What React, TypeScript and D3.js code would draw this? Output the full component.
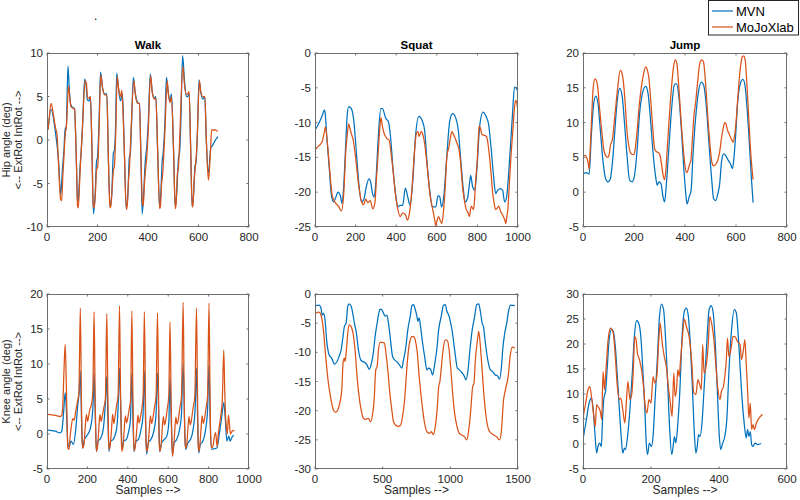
import React from "react";
import * as d3 from "d3";

type P = [number, number];

// ---------- data (sample index, angle in deg) ----------
const walkHipMVN: P[] = [[4,1.2],[16,3.5],[33,1.0],[46,-2.5],[54,-6.3],[62,-3],[67,-1.2],[72,1.4],[76,1.2],[83,8.5],[88,6],[93,4.2],[99,3.8],[109,3.6],[116,-2],[121,-7.2],[125,-6.5],[131,-3],[135,-1.5],[141,1.8],[149,7],[154,6.5],[160,4.6],[167,4.5],[172,5],[178,-1],[184,-8.5],[191,-6],[196,-2.5],[200,-2],[206,2],[212,7.8],[220,6],[228,5.3],[237,5.3],[243,-2],[250,-7.7],[256,-6.5],[263,-1.5],[267,-1.2],[272,2],[276,7.7],[283,6],[291,4.5],[299,5.3],[306,-1],[314,-7.8],[320,-6.5],[326,-2],[330,-1.6],[335,2],[342,7.2],[349,5.5],[359,4.3],[366,4.2],[372,-2],[377,-8.5],[383,-6],[389,-2.5],[395,-0.8],[401,2],[409,7.6],[417,5.5],[425,4.8],[431,5.0],[438,-1],[446,-7.7],[451,-6],[456,-2.5],[460,-1.5],[467,2],[473,7.2],[480,5.5],[487,4.5],[493,5.3],[501,-1],[508,-7.7],[514,-6],[521,-2],[525,-1.5],[530,2],[537,9.7],[544,7],[552,5.0],[557,5.0],[563,5.3],[569,-1],[575,-7.7],[581,-6],[586,-3],[590,-2.6],[596,1],[602,6.9],[609,5.5],[617,4.7],[625,5.0],[631,0],[639,-3.8],[644,-2.5],[648,-1],[658,-0.5],[667,0],[677,0.4]];
const walkHipMoJo: P[] = [[0,1.0],[4,1.3],[16,4.2],[25,3],[33,1.5],[40,0.5],[46,-3],[54,-6.8],[58,-7.0],[63,-4],[67,-2],[72,0.5],[78,2],[85,6.2],[90,5],[95,3.8],[101,3.7],[109,3.5],[116,-2],[121,-7.6],[124,-7.8],[129,-5],[133,-2.5],[138,0],[143,3],[151,6.8],[156,6.5],[161,4.8],[166,4.8],[172,5.0],[178,-1],[183,-7.5],[187,-7.8],[192,-6],[196,-3.5],[201,-3],[206,1],[213,7.5],[220,6],[228,5.2],[237,5.2],[243,-2],[249,-7.6],[252,-7.8],[257,-6],[263,-3.5],[267,-3],[272,0.5],[278,7.3],[284,5.8],[291,5],[296,5.7],[299,4.5],[306,-1],[314,-8],[318,-7.5],[322,-5],[327,-3],[332,0.5],[344,6.8],[350,5.2],[359,4.2],[366,4.2],[372,-2],[378,-7.2],[381,-7.6],[386,-5],[390,-3.5],[395,-2],[401,1],[410,7.4],[417,5.5],[425,4.7],[431,4.8],[438,-1],[446,-7.9],[449,-7.7],[454,-5],[458,-4],[462,-2],[467,1],[476,6.8],[481,5.2],[487,4.3],[493,5.0],[501,-1],[508,-7.9],[511,-7.5],[516,-4],[521,-3],[526,0.5],[538,8.5],[544,6.5],[552,5.2],[557,5.3],[563,5.6],[569,-1],[575,-7.7],[578,-7.5],[583,-4.5],[588,-3],[593,-1],[604,6.8],[609,5.5],[617,5],[625,5],[631,0],[639,-4.6],[643,-3.5],[648,-1],[652,1.2],[660,1.1],[665,1.2],[670,1.1],[677,1.0]];

const squatHipMVN: P[] = [[0,-11.1],[17,-10.2],[33,-9.2],[47,-8.2],[50,-8.6],[58,-12],[70,-16.4],[80,-20.2],[91,-21.4],[103,-20.7],[113,-20],[125,-20.5],[133,-21.6],[141,-19.3],[150,-14],[158,-9.2],[166,-7.7],[179,-8],[191,-9.7],[203,-14],[216,-18.8],[229,-21.4],[241,-21],[252,-19.3],[266,-18.1],[276,-18.8],[282,-20],[291,-20.7],[299,-18.8],[312,-12],[324,-8],[332,-8],[349,-9.4],[362,-9.9],[372,-12],[385,-16.9],[399,-20.7],[407,-22.1],[419,-21.9],[432,-21.9],[445,-19.4],[457,-20.7],[468,-21.9],[482,-18.3],[495,-12],[512,-9.1],[528,-9.7],[540,-11.1],[551,-15.4],[565,-19.7],[578,-22.1],[595,-22.1],[606,-20.5],[615,-20.7],[623,-22.1],[634,-20.7],[648,-15.4],[664,-9.7],[678,-8.7],[694,-9.4],[706,-11.1],[718,-15.4],[731,-19.7],[739,-21.4],[751,-20.9],[761,-18.8],[767,-17.6],[777,-19.3],[787,-19.7],[797,-16.9],[811,-10.6],[827,-8.5],[844,-9.2],[855,-10.2],[867,-13.5],[880,-17.8],[890,-20.2],[900,-19.7],[914,-19.5],[924,-19.7],[934,-21.4],[944,-20.7],[955,-16.9],[972,-9.2],[983,-4.9],[993,-5.1],[1000,-5.8]];
const squatHipMoJo: P[] = [[0,-14],[10,-13.6],[20,-13.3],[35,-12.8],[45,-11.5],[52,-10.6],[58,-12],[70,-16],[85,-20.5],[100,-21.5],[115,-22],[130,-22.7],[142,-20],[152,-14],[160,-11.5],[166,-10.2],[172,-10.8],[178,-11.5],[188,-12.5],[200,-15],[215,-19],[229,-21.3],[240,-21.8],[250,-21],[260,-21.5],[272,-21.2],[285,-22.4],[295,-21.5],[303,-18],[312,-14],[320,-10.5],[325,-9.3],[332,-10.5],[340,-11.5],[355,-12.3],[365,-12.5],[375,-14.5],[385,-17],[395,-20],[405,-22],[420,-23.5],[432,-23],[445,-23.2],[455,-24],[462,-23.5],[470,-22],[480,-18.5],[488,-15],[495,-12.5],[500,-11.5],[508,-11.3],[512,-12],[520,-11.5],[525,-11.3],[532,-11.8],[540,-13],[555,-17],[565,-20],[580,-22.5],[590,-24],[595,-24.8],[602,-24],[608,-23.5],[616,-24],[625,-24.5],[632,-23],[640,-20],[650,-14.8],[660,-13.5],[668,-12],[675,-11.3],[682,-11.7],[690,-12.2],[700,-13],[710,-14],[718,-16],[726,-19],[735,-21],[745,-22.5],[752,-22.8],[760,-23.5],[770,-22],[780,-22.5],[785,-21.5],[790,-19],[800,-15],[805,-12],[808,-10.5],[815,-10.8],[822,-11.7],[830,-11.8],[845,-12],[852,-13],[860,-15],[868,-17.5],[875,-20],[882,-21.5],[890,-22.5],[898,-22.3],[905,-22],[915,-22.8],[925,-23.3],[935,-24],[940,-24.5],[945,-23.5],[950,-22.5],[957,-19],[965,-15],[975,-11],[982,-8],[988,-6.8],[995,-7.3],[1000,-8.6]];

const jumpHipMVN: P[] = [[3,2.7],[13,2.8],[24,2.6],[33,8.4],[42,12.7],[50,13.8],[59,12.7],[68,8.9],[78,4.6],[89,1.9],[98,1.5],[107,1.9],[115,4.1],[124,8.4],[133,12.7],[144,14.9],[154,13.7],[163,9.8],[173,5.1],[183,1.7],[193,1.5],[201,2.2],[212,6.0],[222,11.3],[233,14.2],[246,15.2],[255,14.2],[264,10.8],[274,6.0],[285,2.2],[291,1.0],[298,1.5],[306,1.2],[314,-0.7],[320,-1.4],[327,1.2],[337,6.5],[348,12.2],[358,15.4],[366,15.6],[376,13.7],[386,8.9],[395,3.6],[403,-0.2],[408,-1.7],[416,-0.7],[424,0.3],[431,5.1],[442,10.8],[452,14.2],[464,15.8],[473,15.4],[484,12.2],[494,7.0],[505,1.7],[512,-0.9],[520,-1.2],[529,-0.2],[536,1.2],[544,4.6],[552,5.5],[559,5.3],[569,4.6],[578,4.1],[586,3.4],[591,4.6],[599,8.4],[606,12.7],[617,15.6],[627,16.2],[635,15.4],[644,11.8],[654,6.0],[660,2.2],[667,-1.5]];
const jumpHipMoJo: P[] = [[0,5.2],[8,5.3],[15,4.9],[20,4.3],[24,3.3],[28,6],[33,10],[40,15],[47,16.3],[52,16.1],[58,15],[65,12],[73,9],[82,6],[90,5.2],[98,5.0],[103,5.5],[108,6.8],[115,7.5],[125,11],[136,15],[146,17.5],[152,17.2],[158,16],[165,13],[172,9],[182,6.2],[190,5.5],[198,5.4],[204,6],[210,8],[222,13],[235,16.5],[246,18],[252,17.6],[258,16.5],[266,13],[274,9],[281,6.2],[288,5.8],[295,5.7],[302,5.3],[308,4],[314,2.5],[320,1.8],[325,3.2],[330,6],[337,10],[347,15],[355,18],[362,19],[368,18.5],[376,15],[385,10],[394,6],[400,3.8],[406,2.8],[412,3.2],[418,4],[423,4.5],[428,7],[435,11],[442,13],[450,16],[458,18.5],[465,19],[472,18.8],[482,15],[491,10],[500,6],[506,4.2],[512,3.8],[520,4.0],[528,4.5],[536,5.8],[544,8],[550,9.2],[556,10],[561,9.8],[566,9],[574,8.3],[582,7.6],[589,7.2],[594,8],[600,10],[608,14],[616,17.5],[624,19.4],[630,19.6],[636,19],[642,16],[648,12],[654,8],[660,4.5],[667,1.8]];

const walkKneeMVN: P[] = [[0,0.6],[41,0.4],[65,0.15],[73,0.4],[82,3],[90,5.9],[96,3.5],[103,-1.3],[109,-1.8],[119,-1],[131,-1.5],[142,0.6],[152,4],[160,6.3],[165,9],[171,2],[176,-2],[185,-0.8],[196,-0.3],[207,0.2],[220,1.6],[229,4.9],[233,8.7],[240,1.6],[245,-2.5],[253,-1],[266,-0.6],[278,0.6],[289,4.4],[296,8.2],[302,1.6],[307,-2.5],[315,-1],[327,-0.8],[338,-0.1],[348,1.6],[354,5.4],[359,9.4],[367,1.6],[372,-2.2],[380,-1],[392,-0.8],[403,0.2],[413,2],[420,8.7],[426,1.6],[431,-2.5],[441,-1],[452,-0.8],[465,0.6],[475,2.5],[482,9],[488,1.6],[493,-2.9],[501,-1.3],[514,-0.8],[527,0.2],[539,2.5],[547,8.7],[554,1.6],[558,-2.5],[567,-1.3],[580,-0.8],[593,-0.3],[603,1.6],[609,8],[616,1.1],[621,-2.9],[629,-1.3],[642,-0.8],[653,0.2],[665,2.5],[674,10],[681,1.6],[686,-2.2],[697,-1.3],[710,-0.8],[723,0.6],[733,3.5],[740,9.4],[746,1.6],[751,-2.7],[759,-1.5],[772,-1],[785,0.6],[795,3.5],[802,9.9],[808,1.6],[815,-2.2],[828,-2.1],[841,-2],[854,0.2],[865,2.5],[875,4.5],[882,2.5],[890,-1],[900,-0.3],[906,-1],[919,-0.3],[925,-0.2]];
const walkKneeMoJo: P[] = [[0,2.8],[30,2.7],[50,2.6],[65,2.5],[73,2.7],[78,4],[84,9],[90,12.8],[95,8],[100,1],[103,-2],[109,-2.2],[114,-0.5],[120,1],[128,2.2],[135,2],[142,3.2],[150,4.5],[158,6],[165,18],[170,6],[174,-1],[177,-2],[183,-1.5],[188,0.5],[195,2.8],[201,1.8],[206,2.5],[212,3.5],[220,4.2],[227,6],[233,17.5],[238,6],[242,-1],[245,-2.5],[251,-1.5],[256,0.5],[262,2.8],[268,1.8],[274,2.6],[281,3.7],[289,5],[296,17.2],[301,6],[305,-1],[308,-2.2],[314,-1.3],[319,0.5],[325,2.8],[331,1.5],[337,2.5],[344,4],[352,5.5],[359,18.3],[364,6],[368,-1],[371,-2.5],[377,-1.5],[382,0.5],[388,2.6],[394,1.6],[400,2.3],[407,3.6],[414,5],[420,17.6],[425,6],[429,-1],[432,-2.4],[438,-1.5],[444,0.5],[450,2.7],[456,1.6],[462,2.3],[469,3.5],[476,5.5],[482,17.5],[487,6],[490,-1],[494,-2.5],[500,-1.7],[506,0.5],[512,2.6],[518,1.5],[524,2.2],[531,3.6],[540,5.5],[547,17.3],[552,6],[555,-1],[559,-2.5],[565,-1.5],[570,0.5],[576,2.5],[582,1.3],[588,2],[595,3.5],[603,5.5],[609,16],[614,6],[618,-1],[621,-3.2],[627,-1.8],[632,0.2],[638,2.4],[644,1.4],[650,2],[657,3.6],[666,5.5],[674,18.8],[679,6],[683,-1],[686,-2],[692,-1.5],[697,0.5],[703,2.5],[709,1.3],[715,2],[722,3.5],[732,5.5],[740,18],[745,6],[748,-1],[751,-2.5],[757,-1.5],[762,0.5],[768,2.6],[774,1.5],[780,2.2],[787,3.6],[795,5.5],[802,18.7],[807,6],[811,-1],[815,-2],[822,-1.7],[828,-0.5],[835,0.2],[842,-1.8],[848,0],[855,1.5],[862,3],[868,5],[875,12],[880,6],[884,2.5],[888,1],[893,0],[898,2.7],[903,1.5],[908,0],[914,0.3],[920,0.5],[928,0.5]];

const squatKneeMVN: P[] = [[5,-2.0],[30,-1.9],[44,-2.4],[54,-3.6],[64,-3.3],[74,-4.4],[86,-7.9],[104,-10.4],[123,-11],[143,-12],[160,-11.7],[178,-10.7],[193,-9.6],[207,-7.3],[217,-5.6],[230,-5],[242,-2.1],[252,-1.7],[267,-2.1],[281,-3.6],[291,-5],[306,-6.7],[321,-9.6],[341,-11.4],[365,-11.7],[383,-12.1],[400,-12.9],[415,-12.1],[432,-9.9],[444,-7.3],[457,-5.3],[469,-3.6],[481,-2.6],[494,-2.7],[506,-3.3],[518,-3.8],[531,-3.6],[543,-5],[558,-7.9],[573,-10.7],[588,-11.3],[605,-11.6],[622,-12.1],[642,-12.7],[654,-11.3],[672,-9],[686,-6.1],[704,-3.8],[716,-2],[728,-1.8],[741,-2.7],[753,-3.8],[760,-4.7],[770,-4.1],[780,-5.6],[795,-8.4],[810,-10.7],[827,-13],[839,-12.7],[854,-12.9],[869,-13.9],[884,-12.1],[901,-9.3],[914,-6.1],[933,-3.8],[948,-2],[963,-1.8],[975,-3],[988,-3.6],[1000,-4.7],[1012,-6.1],[1032,-9.6],[1052,-12.7],[1067,-13],[1086,-13.5],[1101,-14],[1116,-14.7],[1131,-13],[1146,-9.3],[1160,-6.4],[1180,-3.8],[1195,-1.8],[1210,-1.7],[1222,-3],[1235,-5],[1245,-5.6],[1259,-8.4],[1279,-11.6],[1296,-13],[1313,-13.3],[1333,-13.9],[1348,-14],[1363,-14.6],[1378,-12.4],[1388,-9.3],[1402,-6.7],[1417,-5],[1432,-2.7],[1447,-1.9],[1476,-2.0]];
const squatKneeMoJo: P[] = [[5,-3.3],[30,-3.1],[44,-3.6],[62,-6.1],[79,-10.7],[99,-15.3],[119,-18.2],[136,-19.9],[153,-20.3],[168,-19.9],[183,-18.7],[198,-16.4],[207,-11.9],[217,-11],[222,-11.6],[232,-9.6],[242,-6.7],[252,-5.3],[267,-5.6],[281,-6.7],[296,-9.6],[311,-14.2],[326,-17.6],[341,-19.9],[358,-21.3],[375,-21.5],[395,-21.3],[410,-21.9],[425,-20.7],[437,-18.2],[449,-13],[459,-12.4],[469,-9.6],[481,-8.3],[494,-8.3],[514,-8.4],[523,-9.9],[538,-13],[553,-17],[568,-19.9],[580,-21.9],[597,-22.5],[617,-22.7],[632,-22.5],[647,-21],[662,-18.2],[674,-14.2],[686,-10.7],[701,-8.1],[716,-7.3],[728,-7.3],[741,-7.9],[755,-9.9],[770,-14.2],[790,-18.7],[810,-22.2],[827,-23.6],[844,-23.9],[859,-23.6],[874,-24.1],[889,-22.7],[904,-19.3],[914,-15.9],[923,-15],[933,-12.7],[948,-9.3],[963,-7.9],[975,-7.9],[988,-9],[1002,-12.4],[1017,-17],[1032,-20.5],[1049,-22.7],[1067,-23.9],[1086,-24.2],[1106,-24.5],[1121,-25],[1136,-23.3],[1151,-19.9],[1165,-15.9],[1175,-15.3],[1185,-11.3],[1198,-8.4],[1210,-6.4],[1220,-8.4],[1235,-13],[1249,-17.6],[1264,-21],[1284,-23.3],[1304,-23.9],[1323,-24.2],[1343,-24.5],[1363,-25],[1378,-23.3],[1393,-18.2],[1402,-17],[1412,-15.9],[1427,-14.2],[1442,-10.7],[1457,-9.1],[1476,-9.3]];

const jumpKneeMVN: P[] = [[0,0.9],[10,4.9],[18,8.2],[25,9.2],[30,6.9],[35,2.2],[40,-1.8],[44,-0.5],[49,0.2],[54,-0.5],[57,4.2],[61,8.9],[67,10.9],[71,14.9],[77,20.9],[84,23],[89,22.5],[95,19.5],[101,13.5],[107,6.9],[113,0.9],[117,-1.8],[122,-0.8],[125,-1.1],[131,1.5],[138,6.9],[145,14.2],[151,21.5],[158,24.7],[165,23.9],[170,21.5],[176,14.9],[182,6.9],[186,0.2],[190,-2.1],[195,0.2],[201,-0.5],[206,1.5],[212,8.9],[219,17.5],[225,25.5],[231,28],[237,26.9],[243,20.9],[249,12.2],[255,2.9],[261,-2.1],[265,-0.5],[269,1.5],[273,0.2],[279,4.2],[285,10.9],[291,20.9],[298,26.5],[304,27.2],[310,25.5],[316,19.5],[322,10.9],[328,1.5],[332,-1.8],[336,-0.5],[340,1.9],[344,1.5],[350,4.2],[356,10.9],[364,20.2],[371,26.9],[377,27.7],[383,26.2],[389,20.2],[395,10.9],[401,1.5],[405,-1.1],[411,0.2],[417,1.5],[423,4.9],[429,14.2],[437,22.9],[445,26.9],[451,26.2],[458,20.2],[466,10.9],[474,4.2],[480,1.2],[484,2.9],[488,1.5],[492,2.5],[496,-0.1],[500,-0.5],[506,0.2],[514,-0.1],[524,0.1]];
const jumpKneeMoJo: P[] = [[0,5.2],[8,8.2],[15,10.9],[20,11.5],[26,8.9],[32,5.5],[36,3.5],[40,7.9],[44,7.5],[51,6.5],[55,4.9],[59,14.5],[63,10.9],[67,14.2],[74,20.9],[81,23.2],[89,22.2],[95,17.5],[101,11.5],[107,8.9],[111,9.2],[117,6.9],[123,4.2],[128,8.9],[132,12.5],[138,8.9],[144,10.2],[148,14.9],[152,21.5],[156,20.9],[160,18.2],[166,16.9],[172,14.9],[178,11.5],[183,7.5],[188,6.2],[194,8.9],[200,8.2],[206,13.5],[211,12.2],[217,13.5],[223,20.9],[227,24.2],[233,20.2],[239,17.5],[245,15.5],[251,11.5],[257,8.2],[262,5.5],[267,14.2],[271,9.5],[275,10.9],[279,14.9],[283,13.5],[287,16.9],[292,20.9],[298,25],[304,23.5],[312,21.5],[320,16.2],[326,10.2],[332,9.9],[338,12.9],[342,12.2],[348,10.9],[352,19.9],[356,14.2],[362,15.5],[368,19.5],[373,25.5],[379,23.9],[385,20.9],[391,15.5],[397,10.9],[403,8.9],[407,10.5],[413,11.5],[417,13.5],[421,16.2],[425,21.2],[429,17.5],[435,18.9],[441,21.5],[447,21.5],[454,20.5],[462,19.9],[466,16.9],[472,18.9],[476,20.9],[480,16.2],[484,10.9],[488,5.2],[492,8.2],[496,2.9],[500,3.9],[504,2.9],[510,4.2],[518,5.2],[528,5.9]];

// ---------- ticks ----------
const walkHipXTicks = [0, 200, 400, 600, 800];
const walkHipYTicks = [-10, -5, 0, 5, 10];
const squatHipXTicks = [0, 200, 400, 600, 800, 1000];
const squatHipYTicks = [-25, -20, -15, -10, -5, 0];
const jumpHipXTicks = [0, 200, 400, 600, 800];
const jumpHipYTicks = [-5, 0, 5, 10, 15, 20];
const walkKneeXTicks = [0, 200, 400, 600, 800, 1000];
const walkKneeYTicks = [-5, 0, 5, 10, 15, 20];
const squatKneeXTicks = [0, 500, 1000, 1500];
const squatKneeYTicks = [-30, -25, -20, -15, -10, -5, 0];
const jumpKneeXTicks = [0, 200, 400, 600];
const jumpKneeYTicks = [-5, 0, 5, 10, 15, 20, 25, 30];

const titles = ["Walk", "Squat", "Jump"];
const seriesNames = ["MVN", "MoJoXlab"];

// ---------- layout ----------
const FONT = "'Liberation Sans', Arial, Helvetica, sans-serif";
const COLORS = ["#0072BD", "#D95319"];
const COLS: [number, number][] = [[47, 249], [315, 518], [583, 787]];
const ROWS: [number, number][] = [[53, 227], [294, 469]];
const TICK = 2.5;

type Panel = {
  row: number; col: number; xt: number[]; yt: number[]; mvn: P[]; mojo: P[];
};

const panels: Panel[] = [
  { row: 0, col: 0, xt: walkHipXTicks, yt: walkHipYTicks, mvn: walkHipMVN, mojo: walkHipMoJo },
  { row: 0, col: 1, xt: squatHipXTicks, yt: squatHipYTicks, mvn: squatHipMVN, mojo: squatHipMoJo },
  { row: 0, col: 2, xt: jumpHipXTicks, yt: jumpHipYTicks, mvn: jumpHipMVN, mojo: jumpHipMoJo },
  { row: 1, col: 0, xt: walkKneeXTicks, yt: walkKneeYTicks, mvn: walkKneeMVN, mojo: walkKneeMoJo },
  { row: 1, col: 1, xt: squatKneeXTicks, yt: squatKneeYTicks, mvn: squatKneeMVN, mojo: squatKneeMoJo },
  { row: 1, col: 2, xt: jumpKneeXTicks, yt: jumpKneeYTicks, mvn: jumpKneeMVN, mojo: jumpKneeMoJo },
];

function PanelView({ p, i }: { p: Panel; i: number }) {
  const [x0, x1] = COLS[p.col];
  const [y0, y1] = ROWS[p.row];
  const xs = d3.scaleLinear().domain([p.xt[0], p.xt[p.xt.length - 1]]).range([x0, x1]);
  const ys = d3.scaleLinear().domain([p.yt[0], p.yt[p.yt.length - 1]]).range([y1, y0]);
  const line = d3.line<P>().x((d) => xs(d[0])).y((d) => ys(d[1])).curve(d3.curveMonotoneX);
  const clipId = `clip${i}`;
  const axisColor = "#6e6e6e";
  const textColor = "#262626";
  return (
    <g>
      <defs>
        <clipPath id={clipId}>
          <rect x={x0} y={y0} width={x1 - x0} height={y1 - y0} />
        </clipPath>
      </defs>
      <rect x={x0} y={y0} width={x1 - x0} height={y1 - y0} fill="#fff" />
      <g clipPath={`url(#${clipId})`} fill="none" strokeWidth={1.25} strokeLinejoin="round">
        <path d={line(p.mvn) || ""} stroke={COLORS[0]} />
        <path d={line(p.mojo) || ""} stroke={COLORS[1]} />
      </g>
      <rect x={x0 + 0.5} y={y0 + 0.5} width={x1 - x0 - 1} height={y1 - y0 - 1} fill="none" stroke={axisColor} strokeWidth={1} />
      {p.xt.map((t) => (
        <g key={`x${t}`}>
          <line x1={xs(t)} x2={xs(t)} y1={y1} y2={y1 - TICK} stroke={axisColor} />
          <line x1={xs(t)} x2={xs(t)} y1={y0} y2={y0 + TICK} stroke={axisColor} />
          <text x={xs(t)} y={y1 + 13.5} textAnchor="middle" fontSize={11.5} fill={textColor} fontFamily={FONT}>{String(t)}</text>
        </g>
      ))}
      {p.yt.map((t) => (
        <g key={`y${t}`}>
          <line x1={x0} x2={x0 + TICK} y1={ys(t)} y2={ys(t)} stroke={axisColor} />
          <line x1={x1} x2={x1 - TICK} y1={ys(t)} y2={ys(t)} stroke={axisColor} />
          <text x={x0 - 4} y={ys(t)} dy="0.35em" textAnchor="end" fontSize={11.5} fill={textColor} fontFamily={FONT}>{String(t)}</text>
        </g>
      ))}
      {p.row === 0 && (
        <text x={(x0 + x1) / 2} y={y0 - 4} textAnchor="middle" fontSize={11.5} fontWeight="bold" fill="#000" fontFamily={FONT}>{titles[p.col]}</text>
      )}
      {p.row === 1 && (
        <text x={(x0 + x1) / 2} y={494} textAnchor="middle" fontSize={12} fill={textColor} fontFamily={FONT}>Samples --&gt;</text>
      )}
    </g>
  );
}

export default function App() {
  const yLabels = [
    { row: 0, first: "Hip angle (deg)" },
    { row: 1, first: "Knee angle (deg)" },
  ];
  return (
    <svg width={800} height={500} style={{ position: "absolute", left: 0, top: 0, background: "#fff" }}>
      <rect x={0} y={0} width={800} height={500} fill="#fff" />
      <text x={94} y={20} fontSize={12} fill="#000" fontFamily={FONT}>.</text>
      {panels.map((p, i) => <PanelView key={i} p={p} i={i} />)}
      {yLabels.map((l) => {
        const cy = (ROWS[l.row][0] + ROWS[l.row][1]) / 2;
        return (
          <g key={l.row} fontFamily={FONT} fontSize={11} fill="#262626" textAnchor="middle">
            <text transform={`translate(10,${cy}) rotate(-90)`}>{l.first}</text>
            <text transform={`translate(22,${cy}) rotate(-90)`}>{"<-- ExtRot IntRot -->"}</text>
          </g>
        );
      })}
      <g>
        <rect x={708.5} y={0.5} width={90} height={34.5} fill="#fff" stroke="#262626" strokeWidth={1} />
        {seriesNames.map((n, k) => (
          <g key={n}>
            <line x1={712} x2={733} y1={11 + k * 16} y2={11 + k * 16} stroke={COLORS[k]} strokeWidth={1.2} />
            <text x={736} y={11 + k * 16} dy="0.35em" fontSize={13} fill="#000" fontFamily={FONT}>{n}</text>
          </g>
        ))}
      </g>
    </svg>
  );
}
